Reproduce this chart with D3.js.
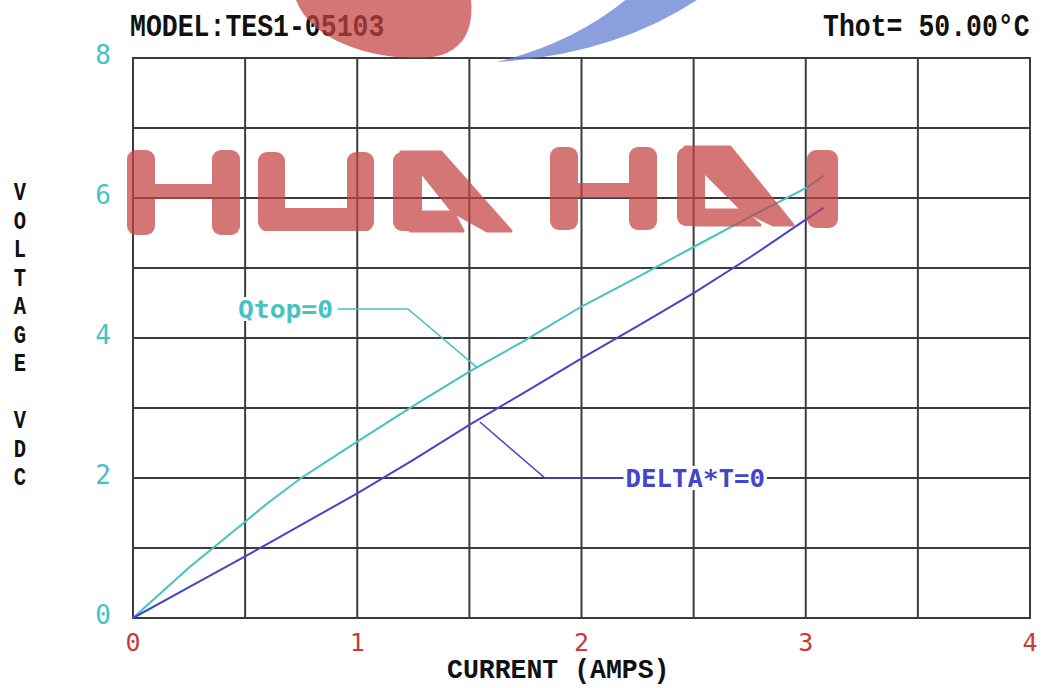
<!DOCTYPE html>
<html>
<head>
<meta charset="utf-8">
<script src="https://cdn.jsdelivr.net/npm/d3@7"></script>
<style>
  html, body { margin: 0; padding: 0; background: #fff; }
  svg { display: block; }
</style>
</head>
<body>
<svg width="1046" height="688"></svg>
<script>
// chart values
const currentTicks = [0, 1, 2, 3, 4];
const voltageTicks = [0, 2, 4, 6, 8];
const currentAmps = [0, 0.25, 0.5, 0.6, 0.75, 1.0, 1.25, 1.5, 1.75, 2.0, 2.25, 2.5, 2.75, 3.0, 3.08];
const qtopVolts = [0, 0.72, 1.376, 1.64, 2.0, 2.52, 3.03, 3.52, 3.97, 4.45, 4.87, 5.30, 5.73, 6.14, 6.32];
const deltaTVolts = [0, 0.44, 0.88, 1.06, 1.33, 1.78, 2.26, 2.76, 3.23, 3.71, 4.17, 4.64, 5.15, 5.69, 5.86];
const yTitle = 'VOLTAGE VDC';

const svg = d3.select('svg');

const x = d3.scaleLinear().domain([0, 4]).range([133, 1030]);
const y = d3.scaleLinear().domain([0, 8]).range([618, 58]);

const gridColor = '#3c3c3c';
const teal = '#45c2c2';
const blue = '#4444cc';
const red = '#c83c3c';

// grid: every half amp, every volt
const g = svg.append('g');
g.append('g')
	.selectAll('line')
	.data(d3.range(0, 4.01, 0.5))
	.join('line')
	.attr('x1', (d) => x(d))
	.attr('x2', (d) => x(d))
	.attr('y1', y(0))
	.attr('y2', y(8))
	.attr('stroke', gridColor)
	.attr('stroke-width', 2);
g.append('g')
	.selectAll('line')
	.data(d3.range(0, 8.01, 1))
	.join('line')
	.attr('x1', x(0) - 1)
	.attr('x2', x(4) + 1)
	.attr('y1', (d) => y(d))
	.attr('y2', (d) => y(d))
	.attr('stroke', gridColor)
	.attr('stroke-width', 2);

// tick labels
g.append('g')
	.selectAll('text')
	.data(currentTicks)
	.join('text')
	.attr('x', (d) => x(d))
	.attr('y', y(0) + 33)
	.attr('text-anchor', 'middle')
	.attr('font-family', 'DejaVu Sans Mono')
	.attr('font-size', 25)
	.attr('fill', red)
	.text((d) => d);

g.append('g')
	.selectAll('text')
	.data(voltageTicks)
	.join('text')
	.attr('x', 111)
	.attr('y', (d) => y(d) + 6)
	.attr('text-anchor', 'end')
	.attr('font-family', 'DejaVu Sans Mono')
	.attr('font-size', 26)
	.attr('fill', teal)
	.text((d) => d);

// titles, monospace stretched a little in height like the old screen font
const mono = 'Liberation Mono';
function title(text, tx, ty, sy) {
	svg.append('text')
		.attr('transform', `translate(${tx},${ty}) scale(1,${sy})`)
		.attr('font-family', mono).attr('font-weight', 'bold').attr('font-size', 26.5)
		.attr('fill', '#111')
		.text(text);
}
title('MODEL:TES1-05103', 130, 36, 1.15);
title('Thot= 50.00°C', 823, 36, 1.15);
title('CURRENT (AMPS)', 447, 678, 1.05);

svg.append('g')
	.selectAll('text')
	.data(yTitle.split(''))
	.join('text')
	.attr('transform', (d, i) => `translate(20,${200 + i * 28.5}) scale(0.82,1.05)`)
	.attr('text-anchor', 'middle')
	.attr('font-family', mono).attr('font-weight', 'bold').attr('font-size', 25)
	.attr('fill', '#111')
	.text((d) => d);

// curves
const line = d3.line()
	.x((d) => x(d[0]))
	.y((d) => y(d[1]));
const qtop = currentAmps.map((a, i) => [a, qtopVolts[i]]);
const deltaT = currentAmps.map((a, i) => [a, deltaTVolts[i]]);

g.append('path').datum(qtop)
	.attr('d', line).attr('fill', 'none').attr('stroke', teal).attr('stroke-width', 2);
g.append('path').datum(deltaT)
	.attr('d', line).attr('fill', 'none').attr('stroke', blue).attr('stroke-width', 2);

// leader lines and labels
g.append('path').datum([[0.914, 4.414], [1.226, 4.414], [1.534, 3.58]])
	.attr('d', line).attr('fill', 'none').attr('stroke', teal).attr('stroke-width', 1.5);
g.append('path').datum([[1.547, 2.8], [1.837, 2.0], [2.19, 2.0]])
	.attr('d', line).attr('fill', 'none').attr('stroke', blue).attr('stroke-width', 1.5);

function label(text, i0, i1, v, color) {
	g.append('rect')
		.attr('x', x(i0) - 2).attr('y', y(v) - 12)
		.attr('width', x(i1) - x(i0) + 4).attr('height', 24)
		.attr('fill', '#fff');
	g.append('text')
		.attr('x', x(i0)).attr('y', y(v) + 9)
		.attr('font-family', 'DejaVu Sans Mono').attr('font-weight', 'bold').attr('font-size', 25)
		.attr('textLength', x(i1) - x(i0)).attr('lengthAdjust', 'spacingAndGlyphs')
		.attr('fill', color)
		.text(text);
}
label('Qtop=0', 0.468, 0.892, 4.414, teal);
label('DELTA*T=0', 2.196, 2.818, 2.0, blue);

// watermark drawn on top
const wm = svg.append('g').attr('opacity', 0.72).attr('fill', 'rgb(196,66,66)');
wm.append('path').attr('d', 'M296,0 C312,42 372,59 422,58 C464,57 474,28 471,0 Z');
svg.append('path')
	.attr('d', 'M496,62 Q615,55 700,-2 L628,-2 Q572,44 496,62 Z')
	.attr('fill', 'rgb(100,125,210)').attr('opacity', 0.75);

const rects = [
	[127, 150, 28, 85], [212, 150, 28, 85], [148, 184, 70, 15],
	[258, 152, 27, 79], [347, 152, 27, 79], [262, 208, 108, 23],
	[393, 152, 29, 79],
	[550, 147, 28, 83], [629, 147, 28, 83], [570, 183, 65, 15],
	[677, 147, 28, 79],
	[807, 150, 31, 78]
];
const polys = [
	[[401, 152], [441, 152], [511, 231], [487, 231], [453, 212], [422, 173]],
	[[410, 212], [453, 212], [463, 231], [410, 231]],
	[[685, 147], [730, 147], [793, 225], [773, 225], [742, 210], [705, 173]],
	[[695, 210], [742, 210], [760, 225], [695, 225]]
];
wm.selectAll('rect').data(rects).join('rect')
	.attr('x', (d) => d[0]).attr('y', (d) => d[1])
	.attr('width', (d) => d[2]).attr('height', (d) => d[3])
	.attr('rx', (d) => (d[3] > 30 ? 9 : 3));
wm.selectAll('polygon').data(polys).join('polygon')
	.attr('points', (d) => d.map((p) => p.join(',')).join(' '))
	.attr('stroke', 'rgb(196,66,66)').attr('stroke-width', 3).attr('stroke-linejoin', 'round');
</script>
</body>
</html>
